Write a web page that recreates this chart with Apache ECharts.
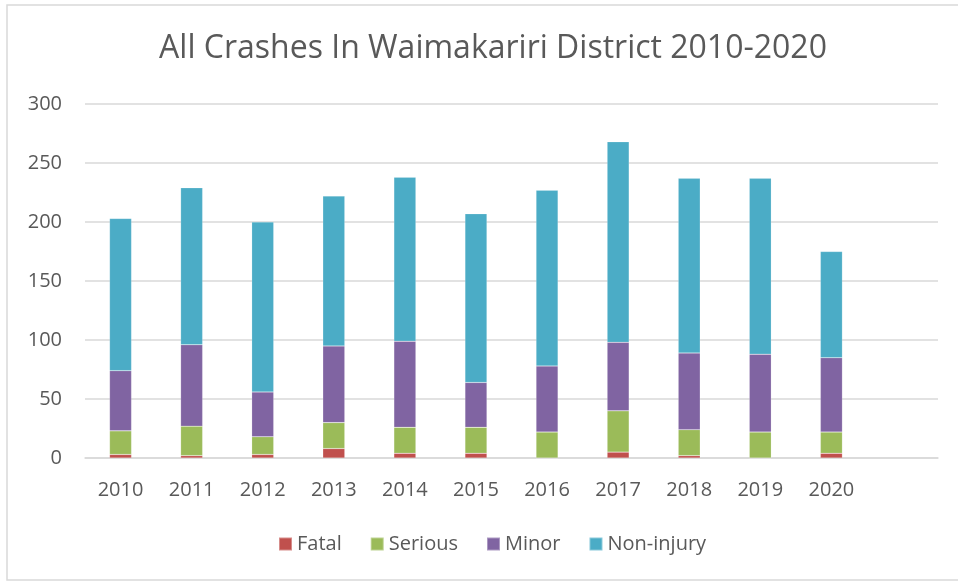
<!DOCTYPE html>
<html>
<head>
<meta charset="utf-8">
<script src="https://cdn.jsdelivr.net/npm/echarts@6/dist/echarts.min.js"></script>
<style>
  html, body { margin: 0; padding: 0; background: #fff; }
  #chart { width: 958px; height: 581px; }
</style>
</head>
<body>
<div id="chart"></div>
<script>
  // data
  const years = ['2010', '2011', '2012', '2013', '2014', '2015', '2016', '2017', '2018', '2019', '2020', '']
  const fatal = [3, 2, 3, 8, 4, 4, 0, 5, 2, 0, 4, null]
  const serious = [20, 25, 15, 22, 22, 22, 22, 35, 22, 22, 18, null]
  const minor = [51, 69, 38, 65, 73, 38, 56, 58, 65, 66, 63, null]
  const nonInjury = [129, 133, 144, 127, 139, 143, 149, 170, 148, 149, 90, null]
  const yTicks = { min: 0, max: 300, interval: 50 }

  const font = "'Open Sans', 'Liberation Sans', sans-serif"
  const chart = echarts.init(document.getElementById('chart'))

  const bar = (name, data, color) => ({
    name,
    type: 'bar',
    stack: 'all',
    data,
    barWidth: 22,
    itemStyle: { color, borderColor: 'rgba(255,255,255,0.35)', borderWidth: 0.5 }
  })

  chart.setOption({
    animation: false,
    backgroundColor: '#fff',
    graphic: [{
      type: 'rect',
      shape: { x: 7, y: 5, width: 960, height: 575 },
      style: { fill: 'none', stroke: '#d9d9d9', lineWidth: 1.5 }
    }],
    title: {
      text: 'All Crashes In Waimakariri District 2010-2020',
      left: 488,
      textAlign: 'center',
      top: 28,
      textStyle: { fontFamily: font, fontSize: 32, fontWeight: 'normal', color: '#595959' }
    },
    legend: {
      bottom: 22,
      left: 273,
      itemWidth: 13,
      itemHeight: 13,
      itemGap: 28,
      icon: 'rect',
      textStyle: { fontFamily: font, fontSize: 20, color: '#595959' }
    },
    grid: { left: 85, right: 20, top: 104, bottom: 123, containLabel: false },
    xAxis: {
      type: 'category',
      data: years,
      axisLine: { lineStyle: { color: '#d9d9d9', width: 1.5 } },
      axisTick: { show: false },
      axisLabel: { fontFamily: font, fontSize: 20, color: '#595959', margin: 22, interval: 0 }
    },
    yAxis: {
      type: 'value',
      min: yTicks.min,
      max: yTicks.max,
      interval: yTicks.interval,
      axisLine: { show: false },
      axisTick: { show: false },
      axisLabel: { fontFamily: font, fontSize: 20, color: '#595959', margin: 23 },
      splitLine: { lineStyle: { color: '#d9d9d9', width: 1.5 } }
    },
    series: [
      bar('Fatal', fatal, '#c0504d'),
      bar('Serious', serious, '#9bbb59'),
      bar('Minor', minor, '#8064a2'),
      bar('Non-injury', nonInjury, '#4bacc6')
    ]
  })
</script>
</body>
</html>
